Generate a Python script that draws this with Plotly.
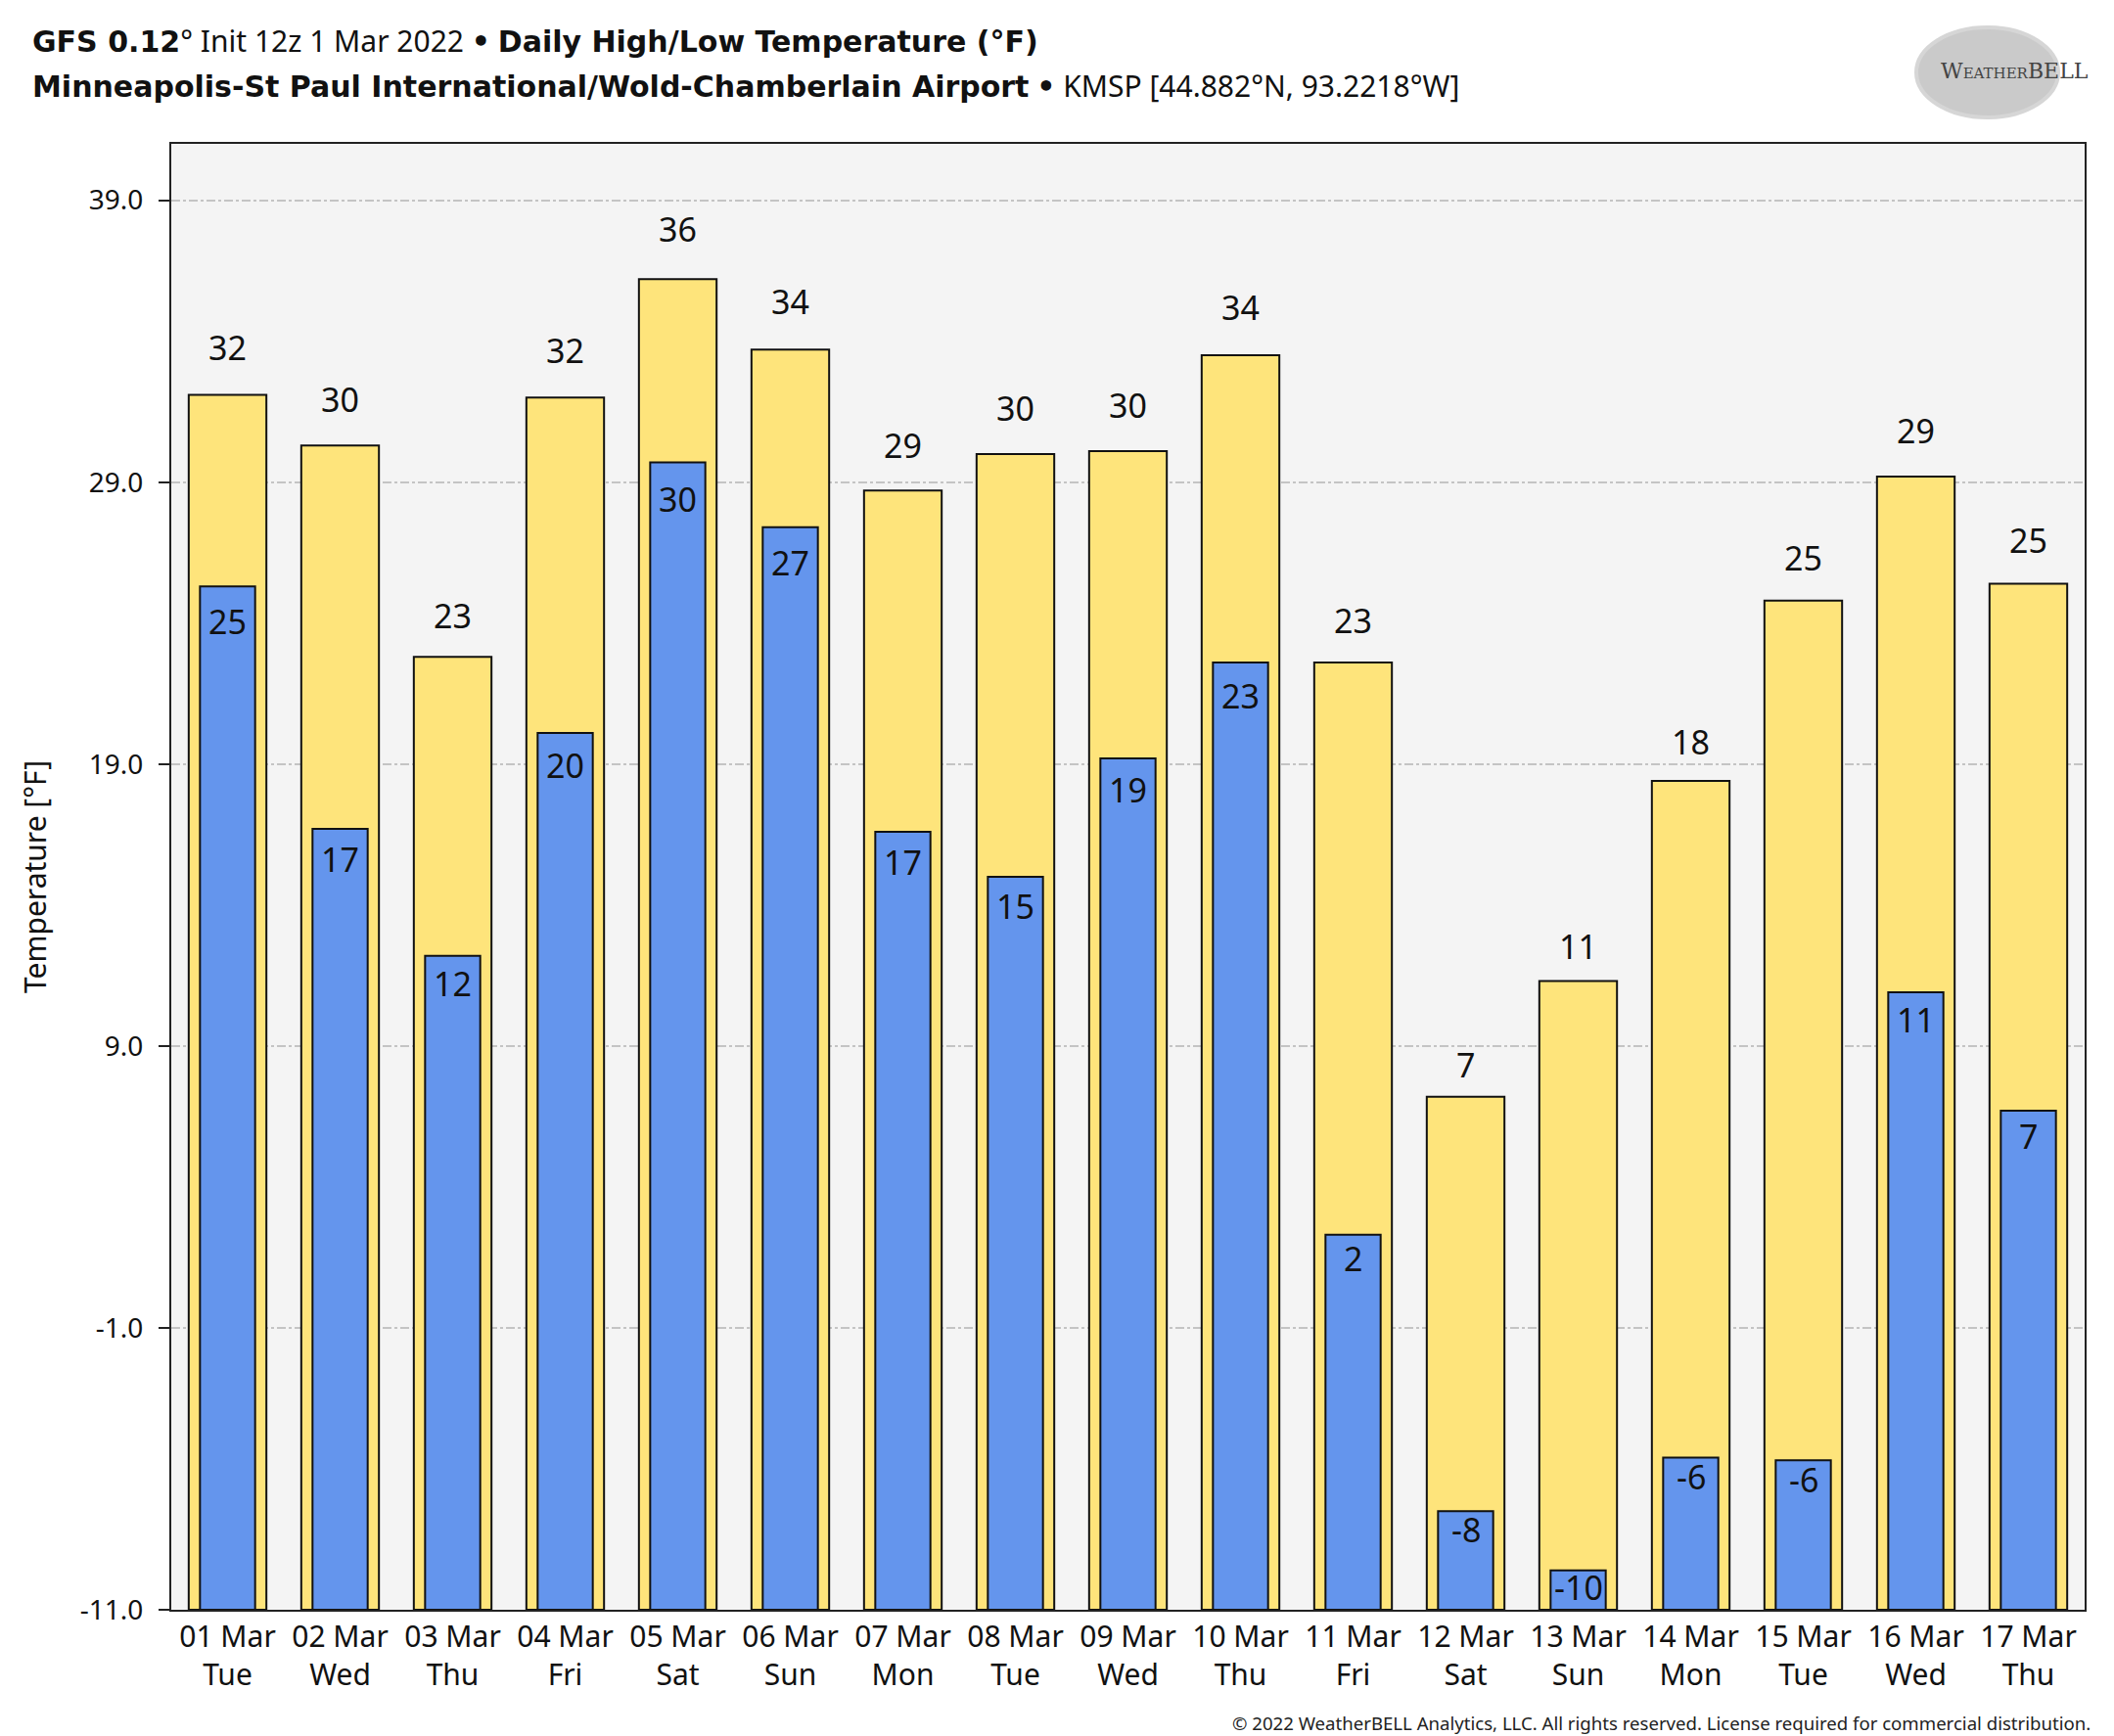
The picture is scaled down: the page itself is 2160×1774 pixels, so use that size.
import plotly.graph_objects as go

dates = ["01 Mar", "02 Mar", "03 Mar", "04 Mar", "05 Mar", "06 Mar", "07 Mar", "08 Mar", "09 Mar",
         "10 Mar", "11 Mar", "12 Mar", "13 Mar", "14 Mar", "15 Mar", "16 Mar", "17 Mar"]
weekdays = ["Tue", "Wed", "Thu", "Fri", "Sat", "Sun", "Mon", "Tue", "Wed",
            "Thu", "Fri", "Sat", "Sun", "Mon", "Tue", "Wed", "Thu"]
highs = [32.1, 30.3, 22.8, 32.0, 36.2, 33.7, 28.7, 30.0, 30.1, 33.5, 22.6, 7.2, 11.3, 18.4, 24.8, 29.2, 25.4]
lows = [25.3, 16.7, 12.2, 20.1, 29.7, 27.4, 16.6, 15.0, 19.2, 22.6, 2.3, -7.5, -9.6, -5.6, -5.7, 10.9, 6.7]
y_ticks = [-11.0, -1.0, 9.0, 19.0, 29.0, 39.0]

Y_MIN, Y_MAX = -11.0, 41.0
W, H = 2160, 1774
ML, MR, MT, MB = 167, 38, 139, 137
plot_h = H - MT - MB
plot_w = W - ML - MR
px_per_deg = plot_h / (Y_MAX - Y_MIN)

cats = [f"{d}<br>{w}" for d, w in zip(dates, weekdays)]
FONT = "Noto Sans"
BOLD = "DejaVu Sans"

fig = go.Figure()
fig.add_trace(go.Bar(
    x=cats, y=[h - Y_MIN for h in highs], base=Y_MIN, width=0.69,
    marker=dict(color="#FEE47B", line=dict(color="#111111", width=2)),
    name="High", hoverinfo="skip"))
fig.add_trace(go.Bar(
    x=cats, y=[l - Y_MIN for l in lows], base=Y_MIN, width=0.49,
    marker=dict(color="#6495ED", line=dict(color="#111111", width=2)),
    name="Low", hoverinfo="skip"))

annotations = []
for c, h in zip(cats, highs):
    hp = (h - Y_MIN) * px_per_deg
    annotations.append(dict(x=c, y=h, xref="x", yref="y", text=str(round(h)), showarrow=False,
                            yanchor="middle", yshift=22 + 0.0213 * hp,
                            font=dict(family=FONT, size=34, color="#111111")))
for c, l in zip(cats, lows):
    hp = (l - Y_MIN) * px_per_deg
    annotations.append(dict(x=c, y=l, xref="x", yref="y", text=str(round(l)), showarrow=False,
                            yanchor="middle", yshift=-(17 + 0.0177 * hp),
                            font=dict(family=FONT, size=34, color="#111111")))


def py(Y):
    return (H - MB - Y) / plot_h


def px(X):
    return (X - ML) / plot_w


def b(t):
    return f"<span style='font-family:{BOLD};font-weight:bold;font-size:30px'>{t}</span>"


annotations += [
    dict(x=px(23), xref="paper", xanchor="left", y=py(33), yref="paper", yanchor="middle",
         showarrow=False, align="left",
         text=b("GFS 0.12") + "° Init 12z 1 Mar 2022 " + b("•") + " " + b("Daily High/Low Temperature (°F)"),
         font=dict(family=FONT, size=30, color="#111111")),
    dict(x=px(23), xref="paper", xanchor="left", y=py(80), yref="paper", yanchor="middle",
         showarrow=False, align="left",
         text=b("Minneapolis-St Paul International/Wold-Chamberlain Airport") + " " + b("•")
              + " KMSP [44.882°N, 93.2218°W]",
         font=dict(family=FONT, size=30, color="#111111")),
    dict(x=px(2130), xref="paper", xanchor="right", y=py(1752), yref="paper", yanchor="middle",
         showarrow=False,
         text="© 2022 WeatherBELL Analytics, LLC. All rights reserved. License required for commercial distribution.",
         font=dict(family=FONT, size=18.6, color="#222222")),
    dict(x=px(2128), xref="paper", xanchor="right", y=py(64), yref="paper", yanchor="middle",
         showarrow=False, text="W<span style='font-size:15px'>EATHER</span>BELL",
         font=dict(family="DejaVu Serif", size=22, color="#444444")),
]

fig.add_shape(type="circle", xref="paper", yref="paper",
              x0=px(1950), x1=px(2095), y0=py(112), y1=py(20), fillcolor="#A8A8A8", opacity=0.6,
              line=dict(color="#BBBBBB", width=4), layer="below")

fig.update_layout(
    width=W, height=H,
    margin=dict(l=ML, r=MR, t=MT, b=MB),
    paper_bgcolor="white", plot_bgcolor="#F4F4F4",
    barmode="overlay", showlegend=False,
    font=dict(family=FONT, color="#111111"),
    annotations=annotations,
    xaxis=dict(type="category", range=[-0.5, len(cats) - 0.5], showgrid=False,
               tickfont=dict(family=FONT, size=30, color="#111111"), ticks="",
               showline=True, linecolor="#222222", linewidth=2, mirror=True),
    yaxis=dict(range=[Y_MIN, Y_MAX], tickvals=y_ticks, ticktext=[f"{v:.1f}" for v in y_ticks],
               tickfont=dict(family=FONT, size=28, color="#111111"),
               ticks="outside", ticklen=11, tickwidth=2, tickcolor="#222222", ticklabelstandoff=10,
               showgrid=True, gridcolor="#C4C4C4", gridwidth=2, griddash="dashdot",
               zeroline=False, showline=True, linecolor="#222222", linewidth=2, mirror=True,
               title=dict(text="Temperature [°F]", font=dict(family=FONT, size=30, color="#111111"),
                          standoff=25)),
)

fig.write_html("out.html")
